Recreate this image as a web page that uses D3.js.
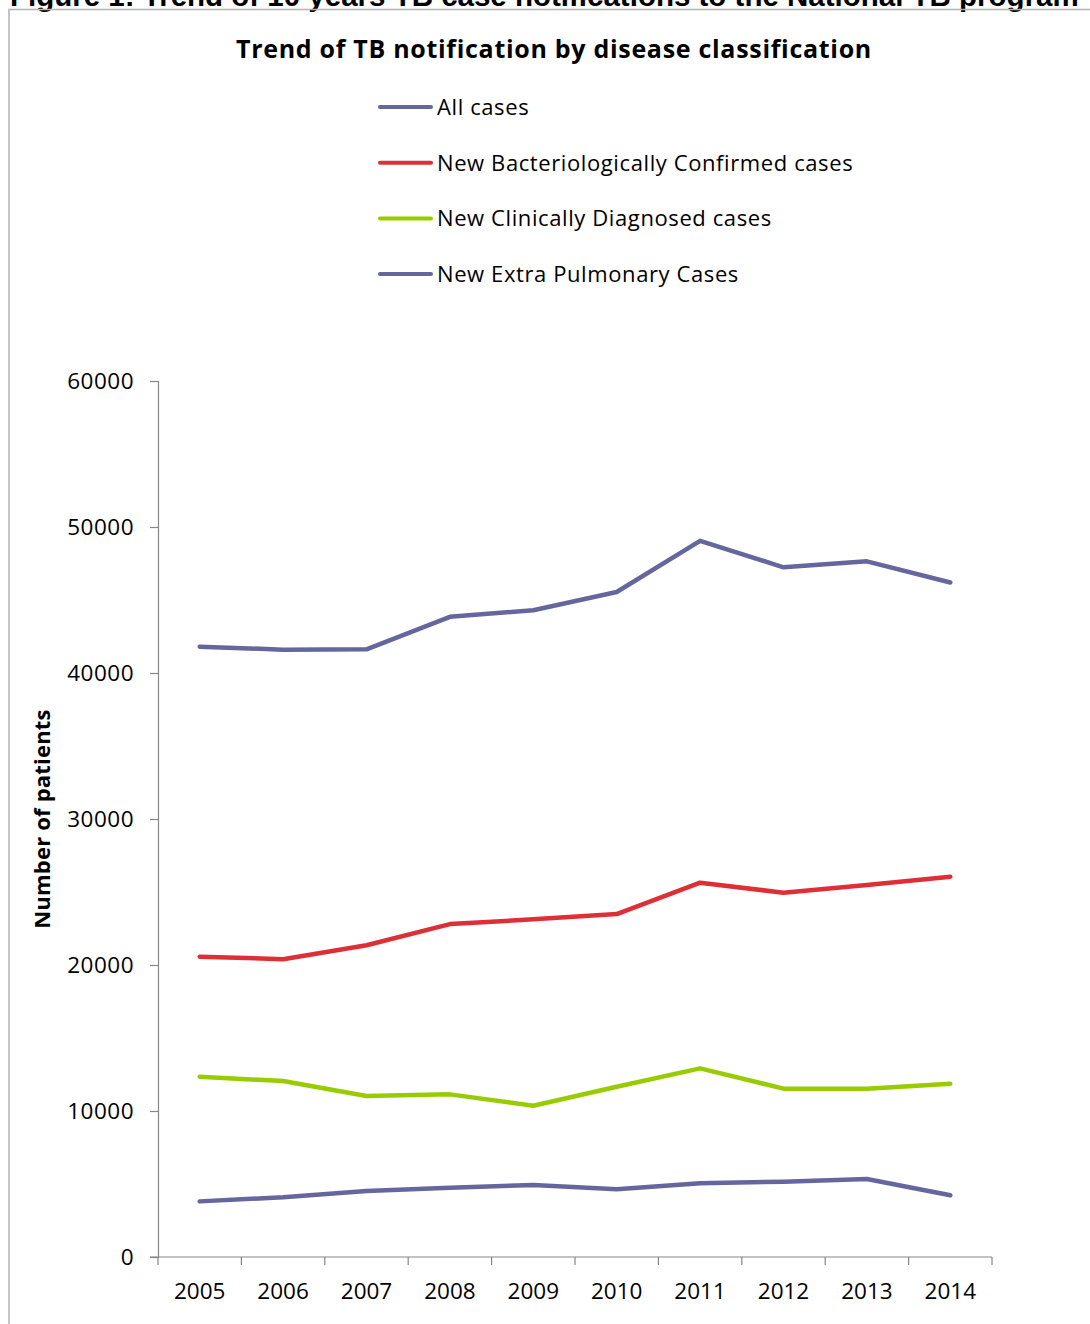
<!DOCTYPE html>
<html>
<head>
<meta charset="utf-8">
<script src="https://cdn.jsdelivr.net/npm/d3@7"></script>
<style>
  body { margin: 0; background: #fff; }
  text { font-family: "Open Sans", sans-serif; fill: #000; }
  .caption { font-family: "Liberation Sans", Arial, sans-serif; font-weight: bold; }
</style>
</head>
<body>
<div class="boundary"></div>
<script>
var years = ["2005","2006","2007","2008","2009","2010","2011","2012","2013","2014"];
var allCases   = [41800, 41600, 41620, 43850, 44300, 45550, 49050, 47240, 47650, 46200];
var newBact    = [20570, 20400, 21350, 22800, 23130, 23490, 25640, 24950, 25480, 26050];
var newClin    = [12350, 12050, 11030, 11140, 10360, 11660, 12920, 11530, 11530, 11870];
var newExtra   = [3810, 4090, 4520, 4750, 4930, 4640, 5050, 5160, 5340, 4230];
var seriesNames = ["All cases","New Bacteriologically Confirmed cases","New Clinically Diagnosed cases","New Extra Pulmonary Cases"];
var seriesColors = ["#66669e","#de2f37","#99cc00","#66669e"];
var yTicks = [0, 10000, 20000, 30000, 40000, 50000, 60000];

var series = [allCases, newBact, newClin, newExtra].map(function(v, i){
  return {name: seriesNames[i], color: seriesColors[i], values: v};
});

var width = 1090, height = 1324;
var svg = d3.select(".boundary").append("svg")
            .attr("width", width).attr("height", height);

// figure caption, cut by the top of the page as in the source
svg.append("text").classed("caption", true)
   .attr("x", 10).attr("y", 6)
   .style("font-size", "29.5px")
   .text("Figure 1: Trend of 10 years TB case notifications to the National TB program");

// chart frame
svg.append("rect").attr("x", 9).attr("y", 9.5)
   .attr("width", 1100).attr("height", 1340)
   .attr("fill", "none").attr("stroke", "#b3b3b3").attr("stroke-width", 1.5);

svg.append("text").attr("x", 554).attr("y", 58)
   .attr("text-anchor", "middle")
   .style("font-size", "25px").style("font-weight", "bold")
   .style("letter-spacing", "0.7px")
   .text("Trend of TB notification by disease classification");

// legend
var legend = svg.append("g").attr("transform", "translate(380,107)")
   .selectAll("g").data(series).enter().append("g")
   .attr("transform", function(d, i){ return "translate(0," + (i * 55.7) + ")"; });
legend.append("line").attr("x1", 0).attr("x2", 51).attr("y1", 0).attr("y2", 0)
      .attr("stroke", function(d){ return d.color; })
      .attr("stroke-width", 4).attr("stroke-linecap", "round");
legend.append("text").attr("x", 57).attr("y", 8)
      .style("font-size", "22px").style("letter-spacing", "0.6px")
      .text(function(d){ return d.name; });

// scales
var x = d3.scaleBand().domain(years).range([158, 992]);
var y = d3.scaleLinear().domain([0, 60000]).range([1257, 381]);

var yAxis = svg.append("g").attr("transform", "translate(158,0)")
   .call(d3.axisLeft(y).tickValues(yTicks).tickSize(8).tickPadding(16).tickFormat(d3.format("d")));
yAxis.selectAll("text").style("font-size", "22.5px").style("letter-spacing", "0.5px").attr("dy", "0.35em");

var xAxis = svg.append("g").attr("transform", "translate(0,1257)");
xAxis.append("line").attr("x1", 150).attr("x2", 992).attr("y1", 0).attr("y2", 0);
xAxis.selectAll(".tk").data(years.concat(["end"])).enter().append("line")
     .attr("x1", function(d, i){ return 158 + i * x.bandwidth(); })
     .attr("x2", function(d, i){ return 158 + i * x.bandwidth(); })
     .attr("y1", 0).attr("y2", 8);
xAxis.selectAll("text").data(years).enter().append("text")
     .attr("x", function(d){ return x(d) + x.bandwidth() / 2; })
     .attr("y", 42).attr("text-anchor", "middle")
     .style("font-size", "22.5px")
     .text(function(d){ return d; });
xAxis.selectAll("line").attr("stroke", "#868686").attr("stroke-width", 1.2);
yAxis.select(".domain").attr("stroke", "#868686").attr("stroke-width", 1.2);
yAxis.selectAll(".tick line").attr("stroke", "#868686").attr("stroke-width", 1.2);

svg.append("text")
   .attr("transform", "translate(50,819) rotate(-90)")
   .attr("text-anchor", "middle")
   .style("font-size", "22px").style("font-weight", "bold")
   .style("letter-spacing", "0.2px")
   .text("Number of patients");

var line = d3.line()
   .x(function(d, i){ return x(years[i]) + x.bandwidth() / 2; })
   .y(function(d){ return y(d); });

svg.append("g").selectAll("path").data(series).enter().append("path")
   .attr("d", function(d){ return line(d.values); })
   .attr("fill", "none")
   .attr("stroke", function(d){ return d.color; })
   .attr("stroke-width", 4.5)
   .attr("stroke-linecap", "round").attr("stroke-linejoin", "round");
</script>
</body>
</html>
